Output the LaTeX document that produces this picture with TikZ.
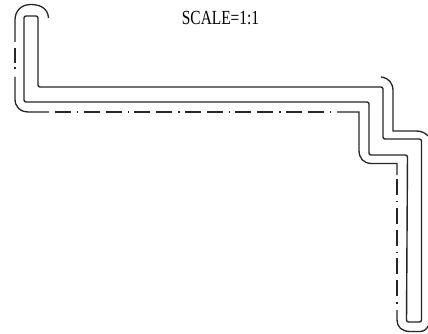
\documentclass[tikz,border=0pt]{standalone}
\usepackage{graphicx}
\usepackage{fontspec}
\setmainfont{Liberation Serif}
\tikzset{
  px/.style={x=1pt,y=-1pt},
  part/.style={draw=black!85,line width=1.4pt,line join=round,rounded corners=2pt},
  guide/.style={draw=black!85,line width=1.3pt,line cap=butt},
  chain/.style={guide,dash pattern=on 16pt off 6pt on 16pt off 6pt on 1.4pt off 5.2pt}
}
\begin{document}
\begin{tikzpicture}[px]
\useasboundingbox (0,0) rectangle (428,334);
\node[font=\fontsize{20}{20}\selectfont,inner sep=0pt,anchor=center] (title) at (220.5,18.5) {\scalebox{.77}[1]{SCALE=1:1}};
% sheet outline
\path[part] (24,16) -- (38,16) -- (38,87) -- (383,87) -- (383,139) -- (421.5,139)
  -- (421.5,322) -- (406.5,322) -- (407.5,155) -- (369,155) -- (369,102) -- (24,102) -- cycle;
% offset line: left hook
\draw[guide] (48.5,18) .. controls (48,9) and (41,4.5) .. (31,4.5)
  .. controls (21,4.5) and (15,11) .. (15,20) -- (15,42);
\draw[guide] (15,48) -- (15,63);
\draw[guide] (15,67.5) -- (15,68.9);
\draw[guide] (15,77) -- (15,99) .. controls (15,107) and (20,112) .. (29,112) -- (49,112);
% offset line: long run
\draw[chain,dash phase=21pt] (54,112) -- (331.4,112);
\draw[guide] (337,112) -- (359,112) -- (359,150) .. controls (359,158) and (363,163.5) .. (372,163.5) -- (397,163.5) -- (397,175);
\draw[chain,dash phase=22pt] (397,179) -- (397,304);
\draw[guide] (397,310) -- (397,320) .. controls (397,327) and (402,331.5) .. (410,331.5)
  -- (420,331.5) .. controls (424,331.5) and (427,329) .. (428,326);
% offset line: upper right
\draw[guide] (381,77) .. controls (389,78) and (393,83) .. (393,91) -- (393,131)
  -- (416,131) .. controls (421,131) and (425,132.5) .. (428,136);
\end{tikzpicture}
\end{document}
